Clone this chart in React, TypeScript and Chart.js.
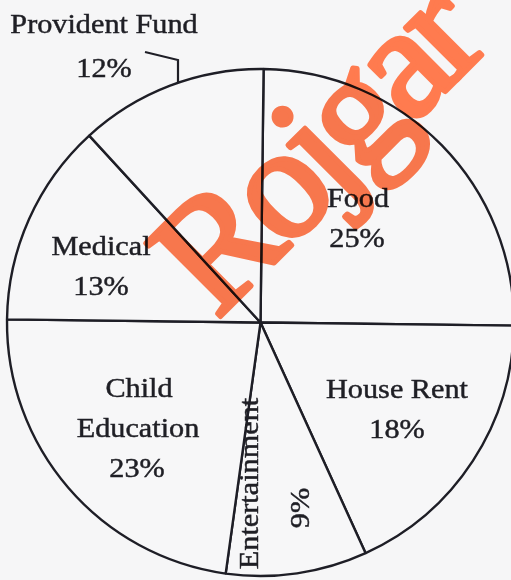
import React, { useEffect, useRef } from "react";
import { Chart, registerables } from "chart.js";

Chart.register(...registerables);

// ---- data ----
const categories = ["Food", "House Rent", "Entertainment", "Child Education", "Medical", "Provident Fund"];
const shares = [25, 18, 9, 23, 13, 12];
const pctLabels = shares.map((v) => `${v}%`);
const watermarkText = "Rojgar";

// ---- label layout (offsets from pie centre, px) ----
type Lbl = { text: string; dx: number; dy: number; rot?: number };
const labelLayout: Lbl[] = [
  { text: categories[0], dx: 97.5, dy: -115.5 },
  { text: pctLabels[0], dx: 96.5, dy: -75.5 },
  { text: categories[1], dx: 136.5, dy: 75.5 },
  { text: pctLabels[1], dx: 136.5, dy: 115.5 },
  { text: categories[2], dx: -2.5, dy: 161, rot: -Math.PI / 2 },
  { text: pctLabels[2], dx: 48.5, dy: 185.5, rot: -Math.PI / 2 },
  { text: "Child", dx: -121.5, dy: 74.5 },
  { text: "Education", dx: -122.5, dy: 114.5 },
  { text: pctLabels[3], dx: -123.5, dy: 154.5 },
  { text: categories[4], dx: -159.5, dy: -67.5 },
  { text: pctLabels[4], dx: -159.5, dy: -27.5 },
  { text: categories[5], dx: -156.5, dy: -289.5 },
  { text: pctLabels[5], dx: -156.5, dy: -245.5 },
];

const labelPlugin = {
  id: "pieLabels",
  afterDraw(chart: any) {
    const arc = chart.getDatasetMeta(0).data[0];
    if (!arc) return;
    const cx = arc.x;
    const cy = arc.y;
    const ctx: CanvasRenderingContext2D = chart.ctx;
    ctx.save();
    ctx.fillStyle = "#1f1f25";
    ctx.strokeStyle = "#1f1f25";
    ctx.lineWidth = 0.45;
    ctx.font = "27px 'Liberation Serif', 'Times New Roman', serif";
    ctx.textAlign = "center";
    ctx.textBaseline = "alphabetic";
    for (const l of labelLayout) {
      ctx.save();
      ctx.translate(cx + l.dx, cy + l.dy);
      if (l.rot) ctx.rotate(l.rot);
      ctx.scale(1.12, 1);
      ctx.fillText(l.text, 0, 0);
      ctx.strokeText(l.text, 0, 0);
      ctx.restore();
    }
    // leader bracket for Provident Fund
    ctx.strokeStyle = "#1e1e26";
    ctx.lineWidth = 2.2;
    ctx.beginPath();
    ctx.moveTo(cx - 115.5, cy - 270.5);
    ctx.lineTo(cx - 82.5, cy - 262.5);
    ctx.lineTo(cx - 82.5, cy - 240.5);
    ctx.stroke();
    ctx.restore();

    // watermark: rendered offscreen, then multiplied over the chart
    const w = chart.width;
    const h = chart.height;
    const off = document.createElement("canvas");
    off.width = w;
    off.height = h;
    const o = off.getContext("2d") as CanvasRenderingContext2D;
    o.fillStyle = "#ff7b4f";
    o.strokeStyle = "#ff7b4f";
    o.lineWidth = 5;
    o.lineJoin = "round";
    o.font = "160px 'Liberation Serif', 'Times New Roman', serif";
    (o as any).letterSpacing = "-9px";
    o.textAlign = "left";
    o.translate(cx - 44, cy - 2);
    o.rotate(-45 * Math.PI / 180);
    o.fillText(watermarkText, 0, 0);
    o.strokeText(watermarkText, 0, 0);
    ctx.save();
    ctx.globalCompositeOperation = "multiply";
    ctx.drawImage(off, 0, 0);
    ctx.restore();
  },
};

export default function App() {
  const ref = useRef<HTMLCanvasElement | null>(null);
  useEffect(() => {
    if (!ref.current) return;
    const chart = new Chart(ref.current, {
      type: "pie",
      data: {
        labels: categories,
        datasets: [
          {
            data: shares,
            backgroundColor: "#f7f7f8",
            borderColor: "#1e1e26",
            borderWidth: 2.4,
            borderAlign: "center",
          } as any,
        ],
      },
      options: {
        responsive: false,
        maintainAspectRatio: false,
        devicePixelRatio: 1,
        animation: false,
        events: [],
        rotation: 0.7,
        radius: 253.5,
        layout: { padding: 0 },
        plugins: { legend: { display: false }, tooltip: { enabled: false } },
      } as any,
      plugins: [labelPlugin],
    });
    return () => chart.destroy();
  }, []);
  return (
    <div
      style={{
        position: "fixed",
        left: 0,
        top: 0,
        width: 511,
        height: 580,
        overflow: "hidden",
        background: "#f6f6f7",
      }}
    >
      <canvas ref={ref} width={521} height={645} style={{ width: 521, height: 645, display: "block" }} />
    </div>
  );
}
